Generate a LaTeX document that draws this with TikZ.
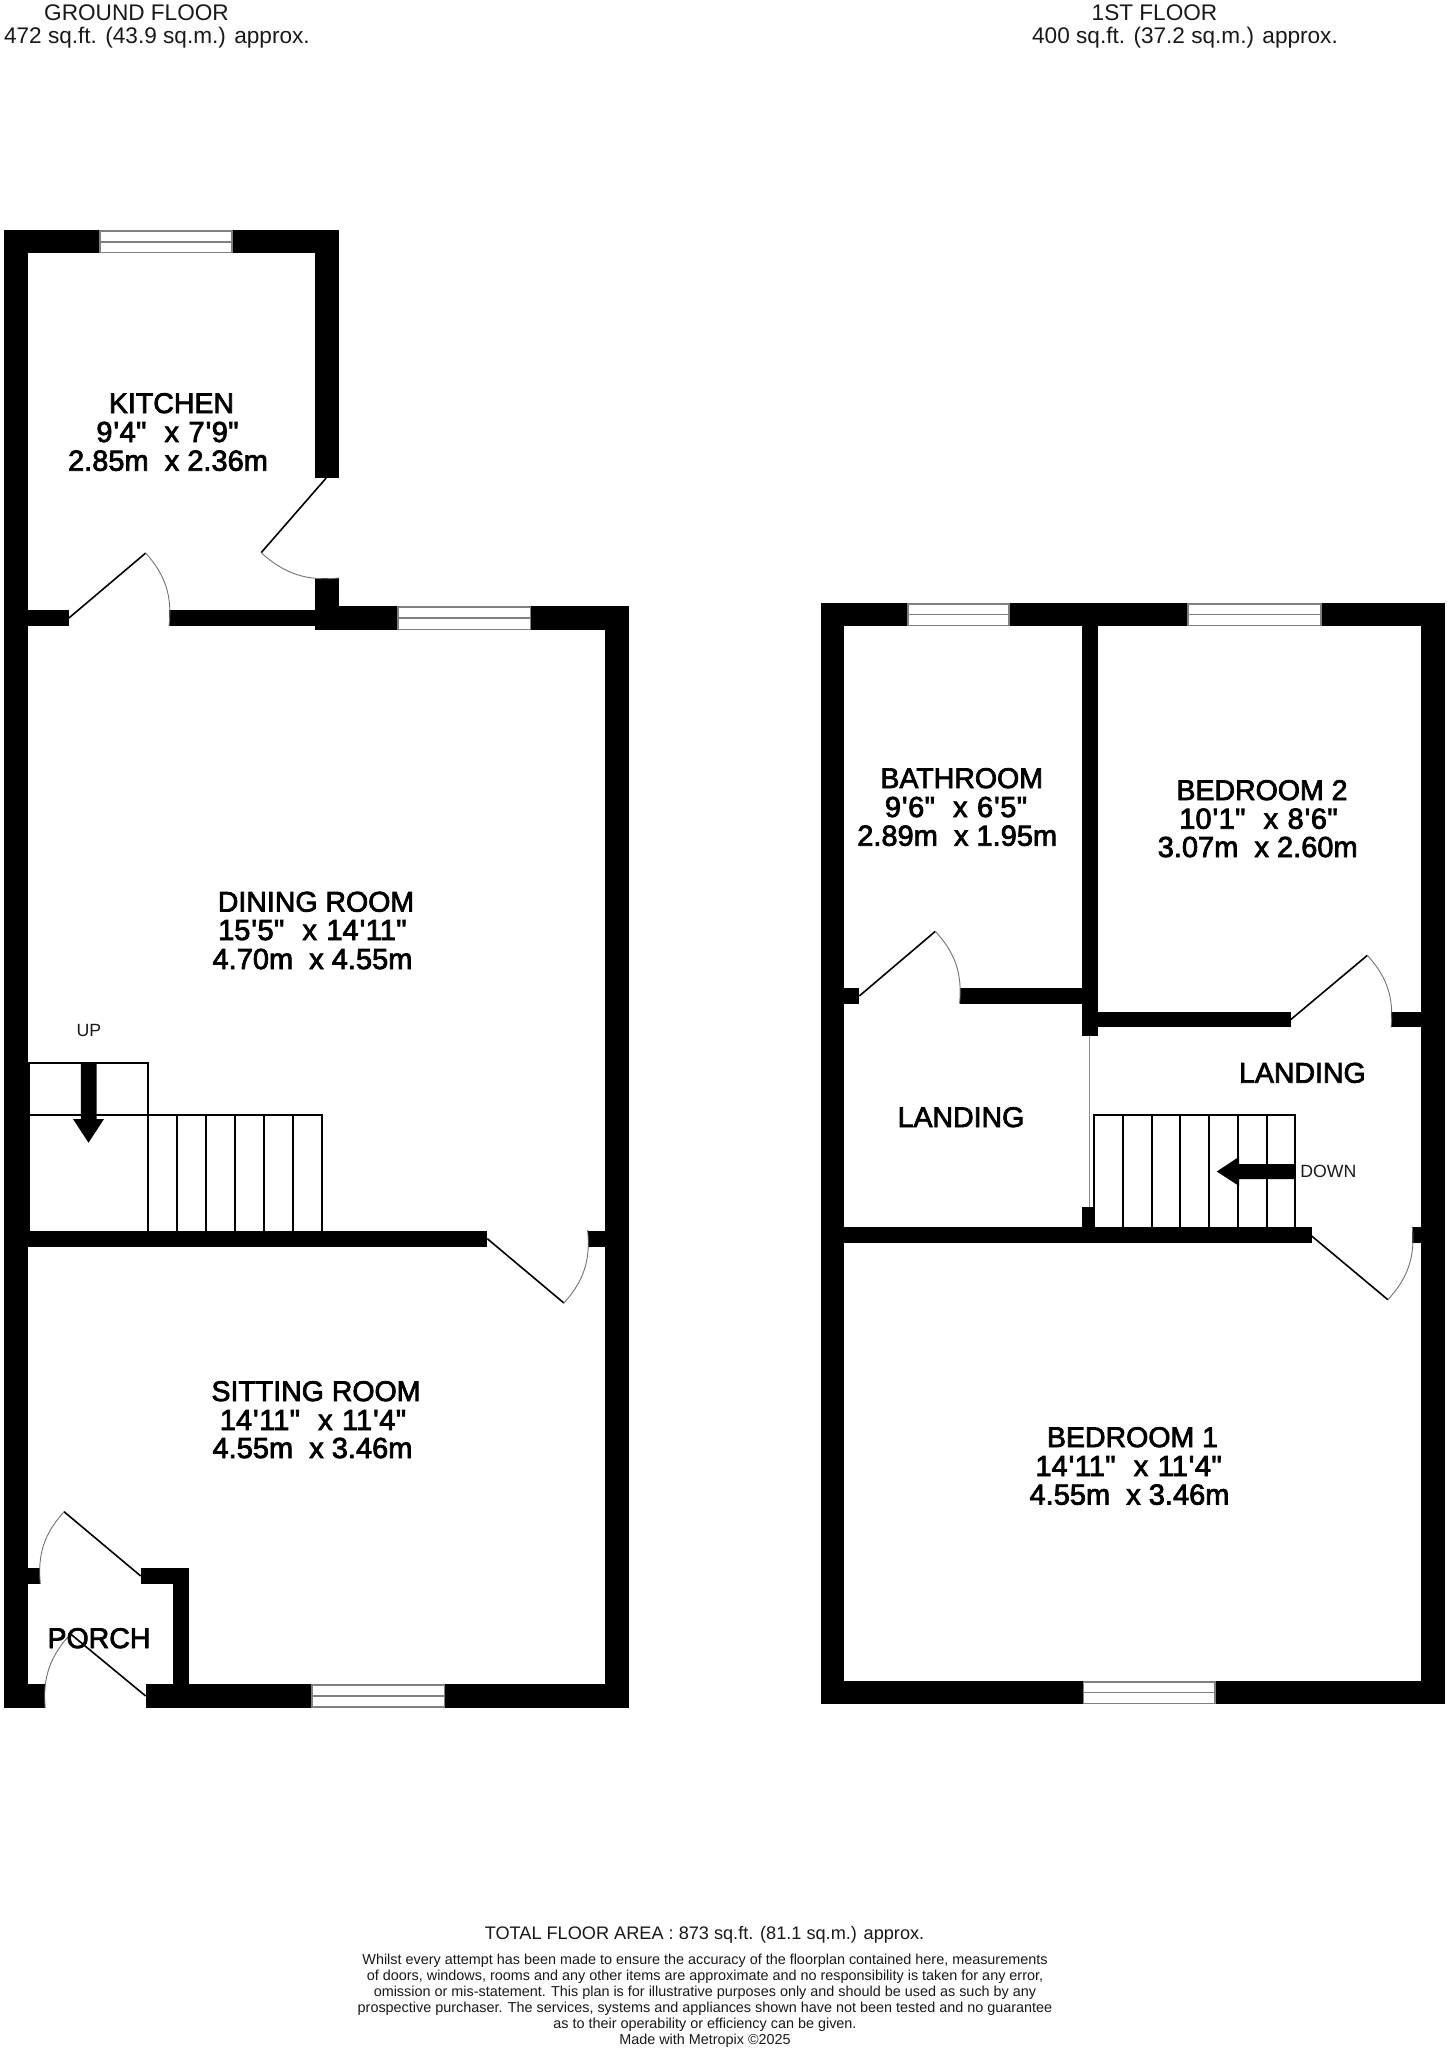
\documentclass[tikz,border=0pt]{standalone}
\usepackage{fontspec}
\newfontfamily\plan{Liberation Sans}
\newcommand{\wallrect}[4]{\fill[wallfill] (#1,#2) rectangle (#3,#4);}
\newcommand{\windowrect}[4]{%
  \fill[white] (#1,#2) rectangle (#3,#4);
  \draw[winline] (#1,#2) rectangle (#3,#4);
  \draw[winline] (#1,{(#2+#4)/2}) -- (#3,{(#2+#4)/2});}
\newcommand{\doorleaf}[4]{% hinge, leaf end, jamb, bend
  \draw[leaf] (#1) -- (#2);
  \draw[swing] (#2) to[#4=24] (#3);}
\newcommand{\treads}[3]{\foreach \tx in {#1} {\draw[stair] (\tx,#2) -- (\tx,#3);}}
% feet and inches line: wider apostrophes and gaps as printed
\newcommand{\ftin}[2]{#1\kern1pt'\kern0.6pt#2\kern0.4pt"}
\newcommand{\bygap}{~~\kern2pt x~\kern1.4pt}
\tikzset{
  wallfill/.style={fill=black},
  winline/.style={draw=black!50,line width=1.7pt},
  leaf/.style={draw=black,line width=1.6pt},
  swing/.style={draw=black!55,line width=0.9pt},
  stair/.style={draw=black,line width=2pt},
  roomlabel/.style={font=\plan\fontsize{29}{29}\selectfont\addfontfeature{FakeBold=2.6},anchor=base,inner sep=0pt,text=black},
  capslabel/.style={roomlabel,font=\plan\fontsize{28.5}{29}\selectfont\addfontfeature{FakeBold=2.6}},
  headtext/.style={font=\plan\fontsize{22.6}{23}\selectfont,anchor=base,inner sep=0pt,text=black!90},
  areatext/.style={font=\plan\fontsize{18.15}{20}\selectfont,anchor=base,inner sep=0pt,text=black!90},
  finetext/.style={font=\plan\fontsize{14.4}{16}\selectfont,anchor=base,inner sep=0pt,text=black!90},
  stairtext/.style={font=\plan\fontsize{17.7}{18}\selectfont,anchor=base,inner sep=0pt,text=black!90},
}
\begin{document}
\begin{tikzpicture}[x=1pt,y=-1pt]
\useasboundingbox (0,0) rectangle (1449,2048);
\fill[white] (0,0) rectangle (1449,2048);

% ---------- GROUND FLOOR ----------
\begin{scope}[x=0.9945pt]
\wallrect{4}{230}{340.5}{253}
\wallrect{4}{230}{28}{1708}
\wallrect{317}{230}{340.5}{478}
\wallrect{317}{578}{340.5}{630}
\wallrect{28}{610}{69.3}{626}
\wallrect{170}{610}{317}{626}
\wallrect{317}{606}{632}{630}
\wallrect{608}{606}{632}{1708}
\wallrect{28}{1230.7}{490}{1246.7}
\wallrect{591}{1230.7}{608}{1246.7}
\wallrect{28}{1568}{40.6}{1584}
\wallrect{141.5}{1568}{190}{1584}
\wallrect{174.4}{1568}{190}{1684}
\wallrect{4}{1684}{45.5}{1708}
\wallrect{146.5}{1684}{632}{1708}
\windowrect{100.5}{231}{233.4}{252.5}
\windowrect{400.4}{607}{533.3}{629.5}
\windowrect{313.8}{1685}{446.8}{1707}

\coordinate (kdH) at (328,478); \coordinate (kdL) at (262.6,552.7); \coordinate (kdJ) at (340.5,578);
\doorleaf{kdH}{kdL}{kdJ}{bend right}
\coordinate (ddH) at (69.3,618); \coordinate (ddL) at (146.5,553); \coordinate (ddJ) at (170,626);
\doorleaf{ddH}{ddL}{ddJ}{bend left}
\coordinate (sdH) at (490,1238.7); \coordinate (sdL) at (567,1303); \coordinate (sdJ) at (590.8,1230);
\doorleaf{sdH}{sdL}{sdJ}{bend right}
\coordinate (puH) at (141.5,1576); \coordinate (puL) at (64.4,1511.7); \coordinate (puJ) at (40.6,1584);
\doorleaf{puH}{puL}{puJ}{bend right}
\coordinate (plH) at (146.5,1696); \coordinate (plL) at (71,1634); \coordinate (plJ) at (45.5,1708);
\doorleaf{plH}{plL}{plJ}{bend right}

\draw[stair] (29.5,1232) -- (29.5,1063) -- (148.5,1063) -- (148.5,1232);
\draw[stair] (29.5,1115) -- (324,1115) -- (324,1232);
\treads{177.6,207.2,236.3,265.4,294.6}{1115}{1232}
\fill[black] (81.2,1063) -- (97.2,1063) -- (97.2,1119) -- (104.6,1119) -- (89,1142.7) -- (73.4,1119) -- (81.2,1119) -- cycle;
\end{scope}

% ---------- FIRST FLOOR ----------
\begin{scope}[x=0.9945pt,xshift=4.51pt]
\wallrect{820.5}{602.7}{1448}{626}
\wallrect{820.5}{602.7}{844}{1704}
\wallrect{1424.4}{602.7}{1448}{1704}
\wallrect{820.5}{1680.7}{1448}{1704}
\wallrect{1083.7}{602.7}{1099.4}{1035.7}
\wallrect{844}{988}{859.5}{1003.7}
\wallrect{960.3}{988}{1084}{1003.7}
\wallrect{1099.4}{1011.7}{1293.4}{1027.3}
\wallrect{1394.2}{1011.7}{1425}{1027.3}
\wallrect{1083.7}{1207.3}{1096.2}{1228}
\wallrect{844}{1227.3}{1314.4}{1242.7}
\wallrect{1415.6}{1227.3}{1425}{1242.7}
\windowrect{908.7}{603.7}{1010.3}{625.5}
\windowrect{1190}{603.7}{1323.6}{625.5}
\windowrect{1085}{1681.7}{1217}{1703.5}

\coordinate (pw1) at (1091.4,1035.7); \coordinate (pw2) at (1091.4,1207.3);
\draw[draw=black!45,line width=1pt] (pw1) -- (pw2);

\coordinate (baH) at (859.5,996); \coordinate (baL) at (936,931.3); \coordinate (baJ) at (960.3,1003.7);
\doorleaf{baH}{baL}{baJ}{bend left}
\coordinate (b2H) at (1293.4,1019.5); \coordinate (b2L) at (1370.4,955.3); \coordinate (b2J) at (1394.2,1027.3);
\doorleaf{b2H}{b2L}{b2J}{bend left}
\coordinate (b1H) at (1314.4,1236); \coordinate (b1L) at (1391,1299.7); \coordinate (b1J) at (1415.6,1226.7);
\doorleaf{b1H}{b1L}{b1J}{bend right}

\draw[stair] (1095.4,1227) -- (1095.4,1114.7) -- (1297.8,1114.7) -- (1297.8,1227);
\treads{1124.4,1153.5,1182.1,1211.1,1240.2,1269.2}{1114.7}{1227}
\fill[black] (1297.8,1164) -- (1241.4,1164) -- (1241.4,1156.7) -- (1219,1171.5) -- (1241.4,1186) -- (1241.4,1179) -- (1297.8,1179) -- cycle;
\end{scope}

% ---------- TEXT ----------
\node[headtext] (h1a) at (136.5,20) {GROUND FLOOR};
\node[headtext] (h1b) at (156.9,43) {472 sq.ft. (43.9 sq.m.) approx.};
\node[headtext] (h2a) at (1154.5,20) {1ST FLOOR};
\node[headtext] (h2b) at (1185,43) {400 sq.ft. (37.2 sq.m.) approx.};

\node[capslabel] (k1) at (171.5,413) {KITCHEN};
\node[roomlabel] (k2) at (167.5,442) {\ftin{9}{4}\bygap\ftin{7}{9}};
\node[roomlabel] (k3) at (168,470.7) {2.85m~~x 2.36m};
\node[capslabel] (d1) at (316,911.6) {DINING ROOM};
\node[roomlabel] (d2) at (312.4,940) {\ftin{15}{5}\bygap\ftin{14}{11}};
\node[roomlabel] (d3) at (312.5,969) {4.70m~~x 4.55m};
\node[capslabel] (s1) at (316,1401) {SITTING ROOM};
\node[roomlabel] (s2) at (313,1430) {\ftin{14}{11}\bygap\ftin{11}{4}};
\node[roomlabel] (s3) at (312.5,1458) {4.55m~~x 3.46m};
\node[capslabel] (p1) at (99,1648) {PORCH};
\node[stairtext] (up) at (89,1036) {UP};

\node[capslabel] (ba1) at (961.7,788) {BATHROOM};
\node[roomlabel] (ba2) at (956,817) {\ftin{9}{6}\bygap\ftin{6}{5}};
\node[roomlabel] (ba3) at (957.2,845.7) {2.89m~~x 1.95m};
\node[capslabel] (be21) at (1262,800) {BEDROOM 2};
\node[roomlabel] (be22) at (1258.5,828.7) {\ftin{10}{1}\bygap\ftin{8}{6}};
\node[roomlabel] (be23) at (1257.7,857) {3.07m~~x 2.60m};
\node[capslabel] (l1) at (1302.4,1082.7) {LANDING};
\node[capslabel] (l2) at (961,1127) {LANDING};
\node[stairtext] (down) at (1328.4,1177.5) {DOWN};
\node[capslabel] (be11) at (1132.5,1447) {BEDROOM 1};
\node[roomlabel] (be12) at (1128.6,1476) {\ftin{14}{11}\bygap\ftin{11}{4}};
\node[roomlabel] (be13) at (1129.5,1504.6) {4.55m~~x 3.46m};

\node[areatext] (tot) at (704.5,1939) {TOTAL FLOOR AREA : 873 sq.ft. (81.1 sq.m.) approx.};
\node[finetext] (f1) at (705,1964) {Whilst every attempt has been made to ensure the accuracy of the floorplan contained here, measurements};
\node[finetext] (f2) at (705,1980) {of doors, windows, rooms and any other items are approximate and no responsibility is taken for any error,};
\node[finetext] (f3) at (705,1996) {omission or mis-statement. This plan is for illustrative purposes only and should be used as such by any};
\node[finetext] (f4) at (705,2012) {prospective purchaser. The services, systems and appliances shown have not been tested and no guarantee};
\node[finetext] (f5) at (705,2028) {as to their operability or efficiency can be given.};
\node[finetext] (f6) at (705,2044) {Made with Metropix \textcopyright 2025};
\end{tikzpicture}
\end{document}
